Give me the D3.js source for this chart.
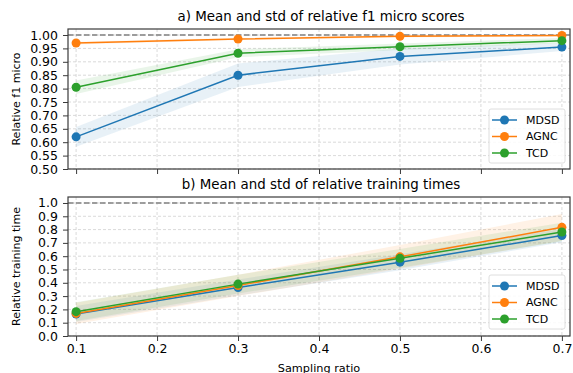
<!DOCTYPE html>
<html>
<head>
<meta charset="utf-8">
<script src="https://cdn.jsdelivr.net/npm/d3@7"></script>
<style>
  body { margin: 0; background: #fff; }
  text { font-family: "DejaVu Sans", sans-serif; fill: #000; }
</style>
</head>
<body>
<div id="chart"></div>
<script>
// sampling ratios
var ratios = [0.1, 0.3, 0.5, 0.7];
var methods = ["MDSD", "AGNC", "TCD"];

// a) relative f1 micro: mean / std
var f1Mdsd = [0.620, 0.850, 0.920, 0.955];
var f1Agnc = [0.970, 0.985, 0.995, 0.998];
var f1Tcd  = [0.805, 0.932, 0.956, 0.979];
var f1MdsdStd = [0.037, 0.044, 0.030, 0.015];
var f1AgncStd = [0.005, 0.004, 0.004, 0.003];
var f1TcdStd  = [0.025, 0.015, 0.012, 0.010];

// b) relative training time: mean / std
var ttMdsd = [0.165, 0.365, 0.555, 0.755];
var ttAgnc = [0.170, 0.380, 0.595, 0.817];
var ttTcd  = [0.183, 0.390, 0.584, 0.782];
var ttMdsdStd = [0.060, 0.060, 0.060, 0.050];
var ttAgncStd = [0.080, 0.080, 0.090, 0.100];
var ttTcdStd  = [0.070, 0.070, 0.070, 0.070];

var xTicks = [0.1, 0.2, 0.3, 0.4, 0.5, 0.6, 0.7];
var f1Ticks = [0.50, 0.55, 0.60, 0.65, 0.70, 0.75, 0.80, 0.85, 0.90, 0.95, 1.00];
var ttTicks = [0.0, 0.1, 0.2, 0.3, 0.4, 0.5, 0.6, 0.7, 0.8, 0.9, 1.0];

var colors = ["#1f77b4", "#ff7f0e", "#2ca02c"];

var W = 573, H = 373;
var svg = d3.select("#chart").append("svg")
    .attr("width", W).attr("height", H);

var left = 68, right = 570;
var x = d3.scaleLinear().domain([0.09, 0.71]).range([left, right]);

function panel(opts) {
    var y = d3.scaleLinear().domain(opts.domain).range([opts.bottom, opts.top]);
    var g = svg.append("g");

    // grid
    g.selectAll(".gx").data(xTicks).enter().append("line")
        .attr("x1", function(d) { return x(d); }).attr("x2", function(d) { return x(d); })
        .attr("y1", opts.top).attr("y2", opts.bottom)
        .attr("stroke", "#d0d0d0").attr("stroke-width", 0.8).attr("stroke-dasharray", "3,2");
    g.selectAll(".gy").data(opts.ticks).enter().append("line")
        .attr("x1", left).attr("x2", right)
        .attr("y1", function(d) { return y(d); }).attr("y2", function(d) { return y(d); })
        .attr("stroke", "#d0d0d0").attr("stroke-width", 0.8).attr("stroke-dasharray", "3,2");

    // reference line at 1
    g.append("line")
        .attr("x1", left).attr("x2", right)
        .attr("y1", y(1)).attr("y2", y(1))
        .attr("stroke", "#808080").attr("stroke-width", 1.5).attr("stroke-dasharray", "5.5,2.5");

    var area = d3.area()
        .x(function(d) { return x(d.x); })
        .y0(function(d) { return y(d.m - d.s); })
        .y1(function(d) { return y(d.m + d.s); });
    var line = d3.line()
        .x(function(d) { return x(d.x); })
        .y(function(d) { return y(d.m); });

    opts.series.forEach(function(s, k) {
        var pts = ratios.map(function(r, i) { return {x: r, m: s.mean[i], s: s.std[i]}; });
        g.append("path").datum(pts).attr("d", area)
            .attr("fill", colors[k]).attr("fill-opacity", 0.1);
    });
    opts.series.forEach(function(s, k) {
        var pts = ratios.map(function(r, i) { return {x: r, m: s.mean[i], s: s.std[i]}; });
        g.append("path").datum(pts).attr("d", line)
            .attr("fill", "none").attr("stroke", colors[k]).attr("stroke-width", 1.5);
        g.selectAll(".pt" + k).data(pts).enter().append("circle")
            .attr("cx", function(d) { return x(d.x); })
            .attr("cy", function(d) { return y(d.m); })
            .attr("r", 4.5).attr("fill", colors[k]);
    });

    // spines
    g.append("rect")
        .attr("x", left).attr("y", opts.top)
        .attr("width", right - left).attr("height", opts.bottom - opts.top)
        .attr("fill", "none").attr("stroke", "#3a3a3a").attr("stroke-width", 1.2);

    // y axis
    var ya = g.append("g").attr("transform", "translate(" + left + ",0)")
        .call(d3.axisLeft(y).tickValues(opts.ticks).tickFormat(d3.format(opts.fmt))
            .tickSize(5).tickPadding(5));
    ya.select(".domain").remove();
    ya.selectAll(".tick line").attr("stroke", "#3a3a3a");
    ya.selectAll("text").attr("font-size", 12.5).attr("font-family", "DejaVu Sans");

    // x axis
    var xa = g.append("g").attr("transform", "translate(0," + opts.bottom + ")")
        .call(d3.axisBottom(x).tickValues(xTicks).tickFormat(d3.format(".1f"))
            .tickSize(5).tickPadding(3));
    xa.select(".domain").remove();
    xa.selectAll(".tick line").attr("stroke", "#3a3a3a");
    xa.selectAll("text").attr("font-size", 12.5).attr("font-family", "DejaVu Sans");
    if (!opts.xLabels) xa.selectAll("text").remove();

    // title
    svg.append("text").attr("x", (left + right) / 2 + 2).attr("y", opts.top - 8)
        .attr("text-anchor", "middle").attr("font-size", 13.4).text(opts.title);

    // y label
    svg.append("text")
        .attr("transform", "translate(20," + (opts.top + opts.bottom) / 2 + ") rotate(-90)")
        .attr("text-anchor", "middle").attr("font-size", 11).text(opts.ylabel);

    // legend
    var lg = g.append("g").attr("transform", "translate(489," + opts.legendTop + ")");
    lg.append("rect").attr("width", 76).attr("height", 54).attr("rx", 2)
        .attr("fill", "#fff").attr("fill-opacity", 0.85)
        .attr("stroke", "#d5d5d5").attr("stroke-width", 0.8);
    methods.forEach(function(m, k) {
        var yy = 11 + k * 16.5;
        lg.append("line").attr("x1", 3).attr("x2", 28).attr("y1", yy).attr("y2", yy)
            .attr("stroke", colors[k]).attr("stroke-width", 1.5);
        lg.append("circle").attr("cx", 15.5).attr("cy", yy).attr("r", 4.5).attr("fill", colors[k]);
        lg.append("text").attr("x", 37).attr("y", yy).attr("dy", "0.35em")
            .attr("font-size", 11).text(m);
    });
}

panel({
    top: 29, bottom: 169, domain: [0.5, 1.0224], ticks: f1Ticks, fmt: ".2f",
    title: "a) Mean and std of relative f1 micro scores", ylabel: "Relative f1 micro",
    xLabels: false, legendTop: 109,
    series: [
        {mean: f1Mdsd, std: f1MdsdStd},
        {mean: f1Agnc, std: f1AgncStd},
        {mean: f1Tcd, std: f1TcdStd}
    ]
});

panel({
    top: 197, bottom: 336, domain: [0, 1.045], ticks: ttTicks, fmt: ".1f",
    title: "b) Mean and std of relative training times", ylabel: "Relative training time",
    xLabels: true, legendTop: 275,
    series: [
        {mean: ttMdsd, std: ttMdsdStd},
        {mean: ttAgnc, std: ttAgncStd},
        {mean: ttTcd, std: ttTcdStd}
    ]
});

svg.append("text").attr("x", (left + right) / 2).attr("y", 372)
    .attr("text-anchor", "middle").attr("font-size", 11.3).text("Sampling ratio");
</script>
</body>
</html>
